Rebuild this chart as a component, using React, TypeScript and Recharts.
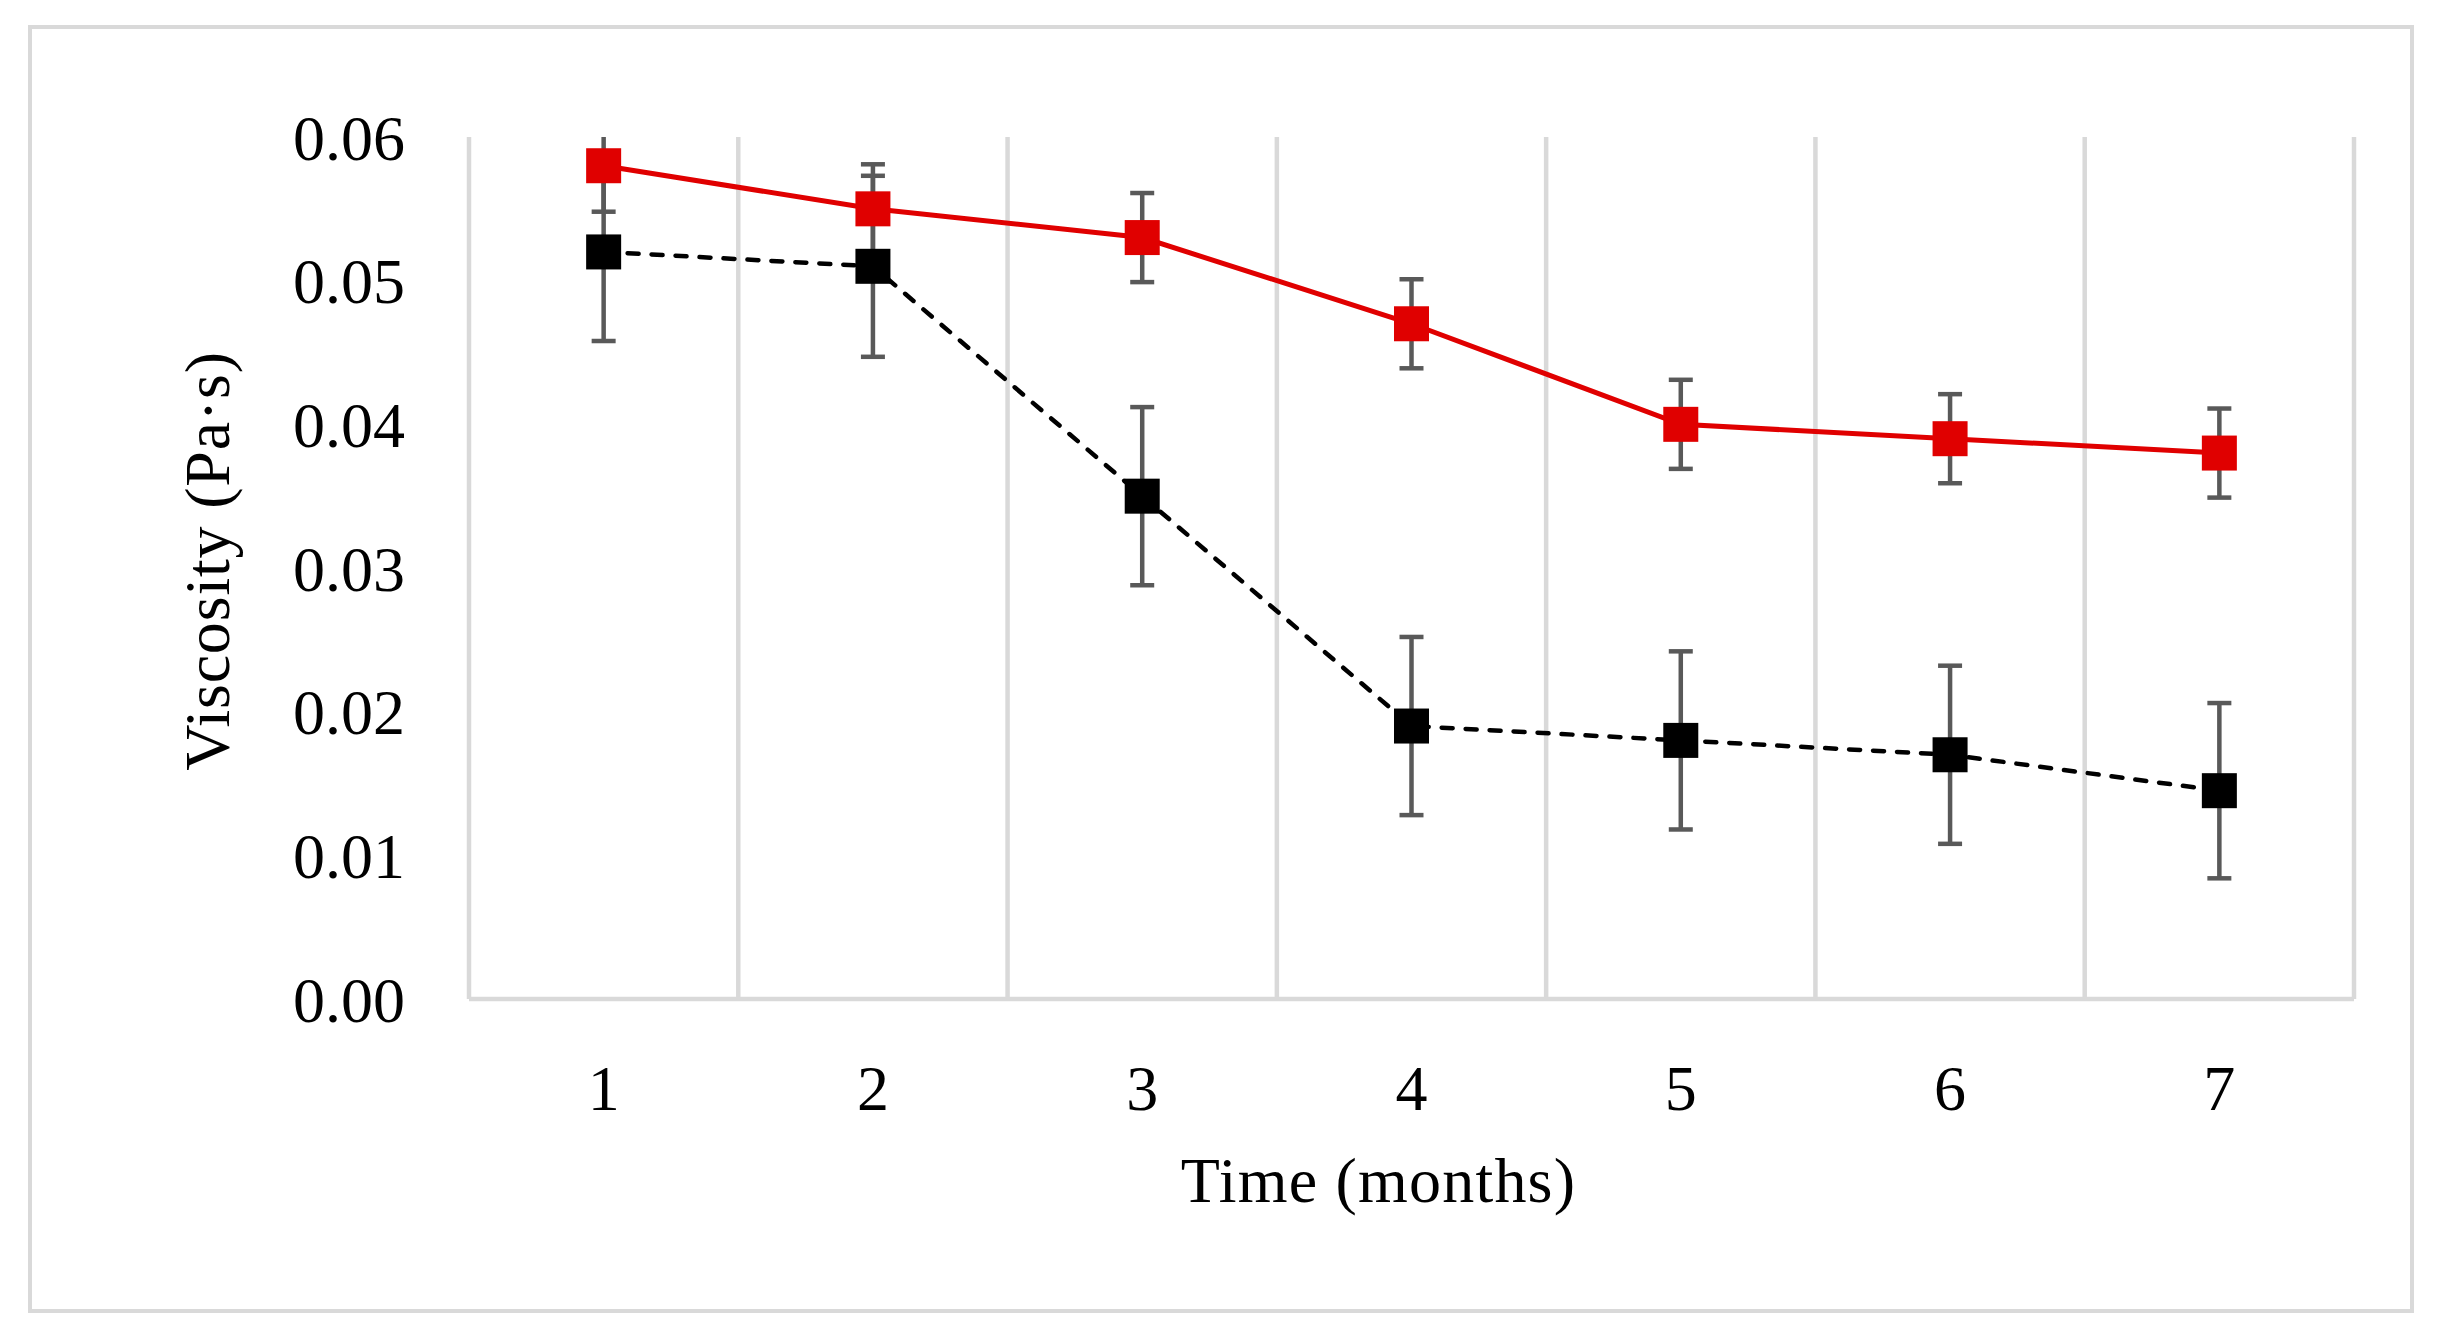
import { LineChart, Line, XAxis, YAxis, CartesianGrid, ErrorBar } from 'recharts';

// months on the x axis
const months = [1, 2, 3, 4, 5, 6, 7];
// category boundaries, where the vertical gridlines sit
const gridTicks = [0.5, 1.5, 2.5, 3.5, 4.5, 5.5, 6.5, 7.5];
const yTicks = [0, 0.01, 0.02, 0.03, 0.04, 0.05, 0.06];

// red series (solid line)
const redValues = [0.058, 0.055, 0.053, 0.047, 0.04, 0.039, 0.038];
const redErrors = [0.0032, 0.0031, 0.0031, 0.0031, 0.0031, 0.0031, 0.0031];

// black series (dashed line)
const blackValues = [0.052, 0.051, 0.035, 0.019, 0.018, 0.017, 0.0145];
const blackErrors = [0.0062, 0.0063, 0.0062, 0.0062, 0.0062, 0.0062, 0.0061];

const data = months.map((m, i) => ({
    month: m,
    red: redValues[i],
    redErr: redErrors[i],
    black: blackValues[i],
    blackErr: blackErrors[i],
}));

const FONT = "'Palatino Linotype', 'Book Antiqua', Palatino, 'Liberation Serif', serif";
const GRID = '#d9d9d9';
const RED = '#e00000';
const MARKER = 35;

// layout of the chart and its plot area
const W = 2444;
const H = 1342;
const PLOT_LEFT = 469;
const PLOT_TOP = 137;
const PLOT_RIGHT = 2354;
const PLOT_BOTTOM = 999;

const squareDot = (fill: string) => (props: any) => {
    const { cx, cy, index } = props;
    if (cx == null || cy == null) return <g key={index} />;
    return <rect key={index} x={cx - MARKER / 2} y={cy - MARKER / 2} width={MARKER} height={MARKER} fill={fill} />;
};

const XTitle = (props: any) => {
    const { viewBox } = props;
    const cx = viewBox.x + viewBox.width / 2 - 33;
    return (
        <text x={cx} y={1202} textAnchor="middle" fontFamily={FONT} fontSize={64} fill="#000" letterSpacing={1.2}>
            Time (months)
        </text>
    );
};

const YTitle = (props: any) => {
    const { viewBox } = props;
    const x = 229;
    const y = viewBox.y + viewBox.height / 2 - 7;
    return (
        <text x={x} y={y} textAnchor="middle" transform={`rotate(-90 ${x} ${y})`} fontFamily={FONT} fontSize={64} fill="#000" letterSpacing={0.8}>
            Viscosity (Pa·s)
        </text>
    );
};

const App = () => {
    return (
        <div style={{ position: 'absolute', left: 0, top: 0, width: W, height: H, background: '#fff' }}>
            {/* error bars are clipped to the plot area, as in the original */}
            <style>{`.recharts-errorBars { clip-path: url(#plot-clip); }`}</style>
            <svg width={0} height={0} style={{ position: 'absolute' }}>
                <defs>
                    <clipPath id="plot-clip" clipPathUnits="userSpaceOnUse">
                        <rect x={PLOT_LEFT} y={PLOT_TOP} width={PLOT_RIGHT - PLOT_LEFT} height={PLOT_BOTTOM - PLOT_TOP} />
                    </clipPath>
                </defs>
            </svg>
            <div
                style={{
                    position: 'absolute',
                    left: 28,
                    top: 25,
                    width: 2386,
                    height: 1288,
                    border: `4.5px solid ${GRID}`,
                    boxSizing: 'border-box',
                }}
            />
            <div style={{ position: 'absolute', left: 0, top: 0 }}>
                <LineChart
                    width={W}
                    height={H}
                    data={data}
                    margin={{ top: PLOT_TOP, right: W - PLOT_RIGHT, bottom: 0, left: 0 }}
                >
                    <XAxis xAxisId="grid" dataKey="month" type="number" domain={[0.5, 7.5]} ticks={gridTicks} height={0} hide />
                    <CartesianGrid xAxisId="grid" horizontal={false} stroke={GRID} strokeWidth={4.5} />
                    <XAxis
                        xAxisId="main"
                        dataKey="month"
                        type="number"
                        domain={[0.5, 7.5]}
                        ticks={months}
                        height={H - PLOT_BOTTOM}
                        axisLine={{ stroke: GRID, strokeWidth: 4.5 }}
                        tickLine={false}
                        tickSize={0}
                        tickMargin={66}
                        tick={{ fill: '#000', fontSize: 64, fontFamily: FONT }}
                        label={{ content: XTitle }}
                    />
                    <YAxis
                        width={PLOT_LEFT}
                        domain={[0, 0.06]}
                        ticks={yTicks}
                        allowDataOverflow
                        axisLine={false}
                        tickLine={false}
                        tickSize={0}
                        tickMargin={64}
                        tickFormatter={(v: number) => v.toFixed(2)}
                        tick={{ fill: '#000', fontSize: 64, fontFamily: FONT }}
                        label={{ content: YTitle }}
                    />
                    {/* error bars first so every marker sits on top of them */}
                    <Line xAxisId="main" dataKey="red" stroke="none" dot={false} activeDot={false} legendType="none" isAnimationActive={false}>
                        <ErrorBar dataKey="redErr" direction="y" width={12} stroke="#595959" strokeWidth={4.5} />
                    </Line>
                    <Line xAxisId="main" dataKey="black" stroke="none" dot={false} activeDot={false} legendType="none" isAnimationActive={false}>
                        <ErrorBar dataKey="blackErr" direction="y" width={12} stroke="#595959" strokeWidth={4.5} />
                    </Line>
                    <Line
                        xAxisId="main"
                        type="linear"
                        dataKey="red"
                        stroke={RED}
                        strokeWidth={5}
                        dot={squareDot(RED)}
                        activeDot={false}
                        isAnimationActive={false}
                    />
                    <Line
                        xAxisId="main"
                        type="linear"
                        dataKey="black"
                        stroke="#000"
                        strokeWidth={4.5}
                        strokeDasharray="11 13"
                        strokeLinecap="round"
                        dot={squareDot('#000')}
                        activeDot={false}
                        isAnimationActive={false}
                    />
                </LineChart>
            </div>
        </div>
    );
};

export default App;
